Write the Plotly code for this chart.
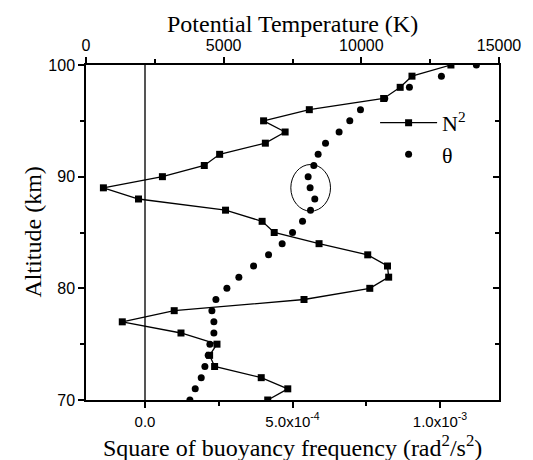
import plotly.graph_objects as go

altitude = list(range(70, 101))
n2_e4 = [4.16, 4.84, 3.94, 2.36, 2.19, 2.44, 1.22, -0.77, 0.99, 5.39,
         7.62, 8.26, 8.22, 7.55, 5.90, 4.38, 3.97, 2.73, -0.22, -1.41,
         0.59, 2.01, 2.53, 4.08, 4.75, 4.02, 5.57, 8.09, 8.65, 9.05, 10.37]
theta = [3774, 3967, 4185, 4318, 4439, 4500, 4645, 4645, 4573, 4718,
         5117, 5552, 6086, 6630, 7124, 7501, 7864, 8154, 8310, 8140,
         8068, 8274, 8431, 8699, 9193, 9581, 9969, 10850, 11747, 12908, 14178]
n2 = [v * 1e-4 for v in n2_e4]

bottom_tickvals = [0, 5e-4, 1e-3]
bottom_ticktext = ["0.0", "5.0x10<sup>-4</sup>", "1.0x10<sup>-3</sup>"]
top_tickvals = [0, 5000, 10000, 15000]
top_ticktext = ["0", "5000", "10000", "15000"]

serif = "Liberation Serif"
sans = "Liberation Sans"

fig = go.Figure()
fig.add_trace(go.Scatter(
    x=n2, y=altitude, xaxis="x", yaxis="y", mode="lines+markers",
    name="N<sup>2</sup>",
    line=dict(color="black", width=1.3),
    marker=dict(symbol="square", size=7, color="black"),
))
fig.add_trace(go.Scatter(
    x=theta, y=altitude, xaxis="x2", yaxis="y2", mode="markers",
    name="θ",
    marker=dict(symbol="circle", size=7, color="black"),
))

# ellipse around the 87-91 km theta points
fig.add_shape(type="circle", xref="x2", yref="y2",
              x0=7439, x1=8880, y0=86.91, y1=91.09,
              line=dict(color="black", width=1))

title_font = dict(family=serif, size=24, color="black")
fig.add_annotation(text="Potential Temperature (K)", xref="paper", yref="paper",
                   x=0.5, y=1.0, yshift=41, xanchor="center", yanchor="middle",
                   showarrow=False, font=title_font)
fig.add_annotation(text="Square of buoyancy frequency (rad<sup>2</sup>/s<sup>2</sup>)",
                   xref="paper", yref="paper", x=0.5, y=0.0, yshift=-46,
                   xanchor="center", yanchor="middle", showarrow=False, font=title_font)
fig.add_annotation(text="Altitude (km)", xref="paper", yref="paper",
                   x=0.0, y=0.5, xshift=-54, xanchor="center", yanchor="middle",
                   textangle=-90, showarrow=False, font=title_font)

axis_common = dict(showline=True, linecolor="black", linewidth=1.5,
                   ticks="outside", ticklen=6, tickwidth=1.5, tickcolor="black",
                   showgrid=False)
tick_font = dict(family=sans, size=16, color="black")

fig.update_layout(
    width=533, height=460,
    margin=dict(l=86, r=34, t=65, b=60),
    paper_bgcolor="white", plot_bgcolor="white",
    showlegend=True,
    legend=dict(x=0.70, y=0.89, xanchor="left", yanchor="top",
                font=dict(family=serif, size=22, color="black"),
                bgcolor="rgba(0,0,0,0)", itemwidth=57, tracegroupgap=0),
    xaxis=dict(range=[-2e-4, 1.2e-3], tickmode="array",
               tickvals=bottom_tickvals, ticktext=bottom_ticktext,
               minor=dict(tickmode="array", tickvals=[2.5e-4, 7.5e-4],
                          ticks="outside", ticklen=4, tickwidth=1.5, tickcolor="black"),
               zeroline=True, zerolinecolor="#555555", zerolinewidth=1.5,
               ticklabelstandoff=1,
               tickfont=dict(family=sans, size=15, color="black"),
               **axis_common),
    xaxis2=dict(range=[0, 15000], overlaying="x", side="top", anchor="y",
                tickmode="array", tickvals=top_tickvals, ticktext=top_ticktext,
                minor=dict(tickmode="array", tickvals=[2500, 7500, 12500],
                           ticks="outside", ticklen=4, tickwidth=1.5, tickcolor="black"),
                zeroline=False, tickfont=tick_font,
                **axis_common),
    yaxis=dict(range=[70, 100], tickmode="linear", tick0=70, dtick=10,
               minor=dict(ticks="outside", ticklen=4, tickwidth=1.5, tickcolor="black",
                          dtick=5, tick0=70),
               zeroline=False, tickfont=tick_font,
               **axis_common),
    yaxis2=dict(range=[70, 100], overlaying="y", side="right", anchor="x",
                showline=True, linecolor="black", linewidth=1.5,
                ticks="inside", ticklen=6, tickwidth=1.5, tickcolor="black",
                tickmode="linear", tick0=70, dtick=10,
                minor=dict(ticks="inside", ticklen=4, tickwidth=1.5, tickcolor="black",
                           dtick=5, tick0=70),
                showticklabels=False, showgrid=False, zeroline=False),
)

fig.write_html("out.html")
